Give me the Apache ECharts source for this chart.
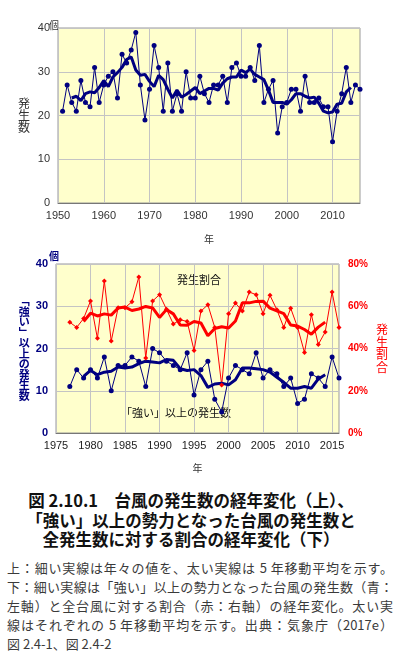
<!DOCTYPE html>
<html>
<head>
<meta charset="utf-8">
<script src="https://cdn.jsdelivr.net/npm/echarts@6/dist/echarts.min.js"></script>
<style>
    html, body { margin: 0; padding: 0; background: #fff; }
    #chart { position: absolute; left: 0; top: 0; width: 396px; height: 480px; }
    #cap { position: absolute; left: 0; top: 491px; width: 396px; font-family: "Noto Sans CJK JP", sans-serif; }
    .t { width: 382px; text-align: center; font-size: 16.5px; font-weight: bold; line-height: 19.5px; color: #111; white-space: nowrap; }
    .b { margin-left: 7px; width: 386px; font-size: 13px; line-height: 19px; color: #3a3a3a; white-space: nowrap; }
    .j { text-align: justify; text-align-last: justify; }
    .first { margin-top: 8px; }
</style>
</head>
<body>
<div id="chart"></div>
<div id="cap">
    <div class="t">図 2.10.1　台風の発生数の経年変化（上）、</div>
    <div class="t">「強い」以上の勢力となった台風の発生数と</div>
    <div class="t">全発生数に対する割合の経年変化（下）</div>
    <div class="b j first">上：細い実線は年々の値を、太い実線は 5 年移動平均を示す。</div>
    <div class="b j">下：細い実線は「強い」以上の勢力となった台風の発生数（青：</div>
    <div class="b j">左軸）と全台風に対する割合（赤：右軸）の経年変化。太い実</div>
    <div class="b j">線はそれぞれの 5 年移動平均を示す。出典：気象庁（2017e）</div>
    <div class="b">図 2.4-1、図 2.4-2</div>
</div>
<script>
// 上：台風の発生数 (1950-2016)
const YEARS_TOP = [
    1950, 1951, 1952, 1953, 1954, 1955, 1956, 1957, 1958, 1959,
    1960, 1961, 1962, 1963, 1964, 1965, 1966, 1967, 1968, 1969,
    1970, 1971, 1972, 1973, 1974, 1975, 1976, 1977, 1978, 1979,
    1980, 1981, 1982, 1983, 1984, 1985, 1986, 1987, 1988, 1989,
    1990, 1991, 1992, 1993, 1994, 1995, 1996, 1997, 1998, 1999,
    2000, 2001, 2002, 2003, 2004, 2005, 2006, 2007, 2008, 2009,
    2010, 2011, 2012, 2013, 2014, 2015, 2016
];
const COUNT = [
    null, 21, 27, 23, 21, 28, 23, 22, 31, 23,
    27, 29, 30, 24, 34, 32, 35, 39, 27, 19,
    26, 36, 31, 21, 32, 21, 25, 21, 30, 24,
    24, 29, 25, 23, 27, 27, 29, 23, 31, 32,
    29, 29, 31, 28, 36, 23, 26, 28, 16, 22,
    23, 26, 26, 21, 29, 23, 23, 24, 22, 22,
    14, 21, 25, 31, 23, 27, 26
];
// 5年移動平均
const COUNT_MA = [
    null, null, null, 24.0, 24.4, 23.4, 25.0, 25.4, 25.2, 26.4,
    28.0, 26.6, 28.8, 29.8, 31.0, 32.8, 33.4, 30.4, 29.2, 29.4,
    27.8, 26.6, 29.2, 28.2, 26.0, 24.0, 25.8, 24.2, 24.8, 25.6,
    26.4, 25.0, 25.6, 26.2, 26.2, 25.8, 27.4, 28.4, 28.8, 28.8,
    30.4, 29.8, 30.6, 29.4, 28.8, 28.2, 25.8, 23.0, 23.0, 23.0,
    22.6, 23.6, 25.0, 25.0, 24.4, 24.0, 24.2, 22.8, 21.0, 20.6,
    20.8, 22.6, 22.8, 25.4, 26.4, null, null
];

// 下：「強い」以上の発生数と割合 (1975-2016)
const YEARS_BOTTOM = [
    1975, 1976, 1977, 1978, 1979, 1980, 1981, 1982, 1983, 1984,
    1985, 1986, 1987, 1988, 1989, 1990, 1991, 1992, 1993, 1994,
    1995, 1996, 1997, 1998, 1999, 2000, 2001, 2002, 2003, 2004,
    2005, 2006, 2007, 2008, 2009, 2010, 2011, 2012, 2013, 2014,
    2015, 2016
];
const STRONG = [
    null, null, 11, 15, 13, 15, 13, 18, 10, 16,
    16, 18, 17, 11, 20, 19, 17, 16, 15, 19,
    9, 15, 17, 8, 5, 13, 16, 15, 14, 19,
    13, 15, 14, 11, 13, 7, 8, 14, 13, 11,
    18, 13
];
const STRONG_MA = [
    null, null, null, null, 13.4, 14.8, 13.8, 14.4, 14.6, 15.6,
    15.4, 15.6, 16.4, 17.0, 16.8, 16.6, 17.4, 17.2, 15.2, 14.8,
    15.0, 13.6, 10.8, 11.6, 11.8, 11.4, 12.6, 15.4, 15.4, 15.2,
    15.0, 14.4, 13.2, 12.0, 10.6, 10.6, 11.0, 10.6, 12.8, 13.8,
    null, null
];
const RATIO = [
    null, null, 52.4, 50.0, 54.2, 62.5, 44.8, 72.0, 43.5, 59.3,
    59.3, 62.1, 73.9, 35.5, 62.5, 65.5, 58.6, 51.6, 53.6, 52.8,
    39.1, 57.7, 60.7, 50.0, 22.7, 56.5, 61.5, 57.7, 66.7, 65.5,
    56.5, 65.2, 58.3, 50.0, 59.1, 50.0, 38.1, 56.0, 41.9, 47.8,
    66.7, 50.0
];
const RATIO_MA = [
    null, null, null, null, 52.8, 56.7, 55.4, 56.4, 55.8, 59.2,
    59.6, 58.0, 58.7, 59.9, 59.2, 54.7, 58.4, 56.4, 51.1, 51.0,
    52.8, 52.1, 46.0, 49.5, 50.3, 49.7, 53.0, 61.6, 61.6, 62.3,
    62.4, 59.1, 57.8, 56.5, 51.1, 50.6, 49.0, 46.8, 50.1, 52.5,
    null, null
];

const NAVY = '#000080';
const RED = '#ff0000';
const GRID_LINE = '#c4c4c4';
const FONT = '"Liberation Sans", Arial, sans-serif';
const CJK = '"Noto Sans CJK JP", sans-serif';

const every = n => (index, value) => Number(value) % n === 0;

const chart = echarts.init(document.getElementById('chart'));
chart.setOption({
    animation: false,
    backgroundColor: '#fff',
    grid: [
        { left: 58, top: 28, width: 302, height: 175, show: true, backgroundColor: '#ffffcc', borderColor: '#999', borderWidth: 1 },
        { left: 56, top: 264, width: 283, height: 169, show: true, backgroundColor: '#ffffcc', borderColor: '#999', borderWidth: 1 }
    ],
    xAxis: [
        {
            gridIndex: 0,
            type: 'category',
            data: YEARS_TOP,
            boundaryGap: false,
            name: '年',
            nameLocation: 'middle',
            nameGap: 31,
            nameTextStyle: { fontFamily: CJK, fontSize: 10, color: '#333' },
            axisLine: { lineStyle: { color: '#777' } },
            axisTick: { show: false },
            axisLabel: { interval: every(10), color: '#333', fontFamily: FONT, fontSize: 11, margin: 7 },
            splitLine: { show: true, interval: every(10), lineStyle: { color: GRID_LINE } }
        },
        {
            gridIndex: 1,
            type: 'category',
            data: YEARS_BOTTOM,
            boundaryGap: false,
            name: '年',
            nameLocation: 'middle',
            nameGap: 30,
            nameTextStyle: { fontFamily: CJK, fontSize: 10, color: '#333' },
            axisLine: { lineStyle: { color: '#777' } },
            axisTick: { show: false },
            axisLabel: { interval: every(5), color: '#222', fontFamily: FONT, fontSize: 11, margin: 7 },
            splitLine: { show: true, interval: every(5), lineStyle: { color: GRID_LINE } }
        }
    ],
    yAxis: [
        {
            gridIndex: 0,
            type: 'value',
            min: 0, max: 40, interval: 10,
            name: '発\n生\n数',
            nameLocation: 'middle',
            nameRotate: 0,
            nameGap: 28,
            nameTextStyle: { fontFamily: CJK, fontSize: 12, lineHeight: 12, color: '#333' },
            axisLine: { show: false },
            axisTick: { show: false },
            axisLabel: { color: '#333', fontFamily: FONT, fontSize: 11, margin: 8 },
            splitLine: { lineStyle: { color: GRID_LINE } }
        },
        {
            gridIndex: 1,
            type: 'value',
            min: 0, max: 40, interval: 10,
            name: '﹁\n強\nい\n﹂\n以\n上\nの\n発\n生\n数',
            nameLocation: 'middle',
            nameRotate: 0,
            nameGap: 24,
            nameTextStyle: { fontFamily: CJK, fontSize: 11, lineHeight: 10.5, fontWeight: 'bold', color: NAVY },
            axisLine: { show: false },
            axisTick: { show: false },
            axisLabel: { color: NAVY, fontFamily: FONT, fontSize: 11, fontWeight: 'bold', margin: 8 },
            splitLine: { lineStyle: { color: GRID_LINE } }
        },
        {
            gridIndex: 1,
            type: 'value',
            position: 'right',
            min: 0, max: 80, interval: 20,
            name: '発\n生\n割\n合',
            nameLocation: 'middle',
            nameRotate: 0,
            nameGap: 37,
            nameTextStyle: { fontFamily: CJK, fontSize: 12, lineHeight: 12.7, color: RED },
            axisLine: { show: false },
            axisTick: { show: false },
            axisLabel: { formatter: '{value}%', color: RED, fontFamily: FONT, fontSize: 10, fontWeight: 'bold', margin: 9 },
            splitLine: { show: false }
        }
    ],
    graphic: [
        { type: 'text', left: 49, top: 20, style: { text: '個', font: '10px ' + CJK, fill: '#333' } },
        { type: 'text', left: 49, top: 251, style: { text: '個', font: 'bold 10px ' + CJK, fill: NAVY } },
        { type: 'text', left: 177, top: 274, style: { text: '発生割合', font: '11px ' + CJK, fill: '#111' } },
        { type: 'text', left: 121, top: 407, style: { text: '「強い」以上の発生数', font: '11px ' + CJK, fill: '#111' } }
    ],
    series: [
        {
            type: 'line', xAxisIndex: 0, yAxisIndex: 0,
            data: COUNT,
            symbol: 'circle', symbolSize: 5, showAllSymbol: true,
            itemStyle: { color: NAVY },
            lineStyle: { color: NAVY, width: 1 }
        },
        {
            type: 'line', xAxisIndex: 0, yAxisIndex: 0,
            data: COUNT_MA,
            symbol: 'none',
            lineStyle: { color: NAVY, width: 3 }
        },
        {
            type: 'line', xAxisIndex: 1, yAxisIndex: 2,
            data: RATIO,
            symbol: 'diamond', symbolSize: 5, showAllSymbol: true,
            itemStyle: { color: RED },
            lineStyle: { color: RED, width: 1 }
        },
        {
            type: 'line', xAxisIndex: 1, yAxisIndex: 2,
            data: RATIO_MA,
            symbol: 'none',
            lineStyle: { color: RED, width: 3 }
        },
        {
            type: 'line', xAxisIndex: 1, yAxisIndex: 1,
            data: STRONG,
            symbol: 'circle', symbolSize: 5, showAllSymbol: true,
            itemStyle: { color: NAVY },
            lineStyle: { color: NAVY, width: 1 }
        },
        {
            type: 'line', xAxisIndex: 1, yAxisIndex: 1,
            data: STRONG_MA,
            symbol: 'none',
            lineStyle: { color: NAVY, width: 3 }
        }
    ]
});
</script>
</body>
</html>
